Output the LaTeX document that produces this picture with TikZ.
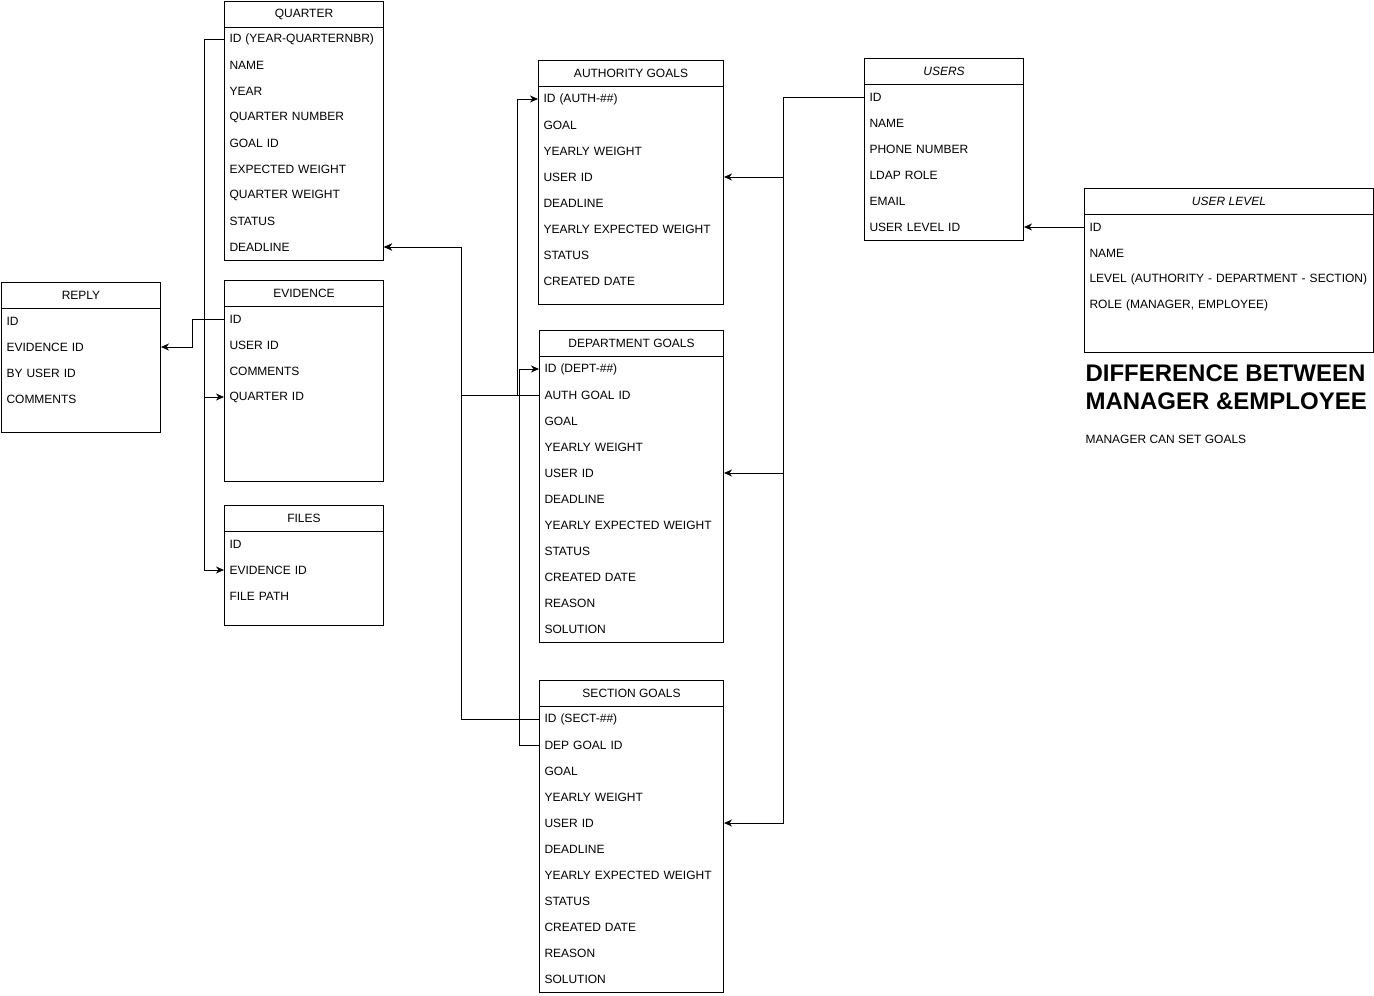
\documentclass[tikz,border=0pt]{standalone}
\usepackage{fontspec}
\setmainfont{Liberation Sans}
\usetikzlibrary{arrows.meta}

\begin{document}
\begin{tikzpicture}[x=1pt, y=-1pt, line width=1pt, >={Stealth[length=8pt,width=7pt,inset=2.5pt]},
	font=\fontsize{12}{14}\selectfont,
	hdr/.style={draw, anchor=north west, minimum width=#1, minimum height=26pt, inner sep=0pt},
	body/.style={draw, anchor=north west, minimum width=#1, inner sep=0pt},
	row/.style={anchor=west, text width=#1, align=left, inner xsep=5pt, inner ysep=0pt, minimum height=26pt}]
	\useasboundingbox (0,0) rectangle (1374,996);
	
	% Tables {quarter, reply, evidence, files}
	\node [hdr=159pt] 							(qh) at (224,1)   {QUARTER};
	\node [body=159pt, minimum height=233pt] 	(qb) at (224,27)  {};
	\foreach \t [count=\i] in {ID (YEAR-QUARTERNBR), NAME, YEAR, QUARTER NUMBER, GOAL ID, EXPECTED WEIGHT, QUARTER WEIGHT, STATUS, DEADLINE}
		\node [row=149pt] (q-\i) at (224,13+26*\i) {\t};
	
	\node [hdr=159pt] 							(rh) at (1,282)   {REPLY};
	\node [body=159pt, minimum height=124pt] 	(rb) at (1,308)   {};
	\foreach \t [count=\i] in {ID, EVIDENCE ID, BY USER ID, COMMENTS}
		\node [row=149pt] (r-\i) at (1,295+26*\i) {\t};
	
	\node [hdr=159pt] 							(eh) at (224,280) {EVIDENCE};
	\node [body=159pt, minimum height=175pt] 	(eb) at (224,306) {};
	\foreach \t [count=\i] in {ID, USER ID, COMMENTS, QUARTER ID}
		\node [row=149pt] (e-\i) at (224,293+26*\i) {\t};
	
	\node [hdr=159pt] 							(fh) at (224,505) {FILES};
	\node [body=159pt, minimum height=94pt] 	(fb) at (224,531) {};
	\foreach \t [count=\i] in {ID, EVIDENCE ID, FILE PATH}
		\node [row=149pt] (f-\i) at (224,518+26*\i) {\t};
	
	% Tables {auth, dept, sect}
	\node [hdr=185pt] 							(ah) at (538,60)  {AUTHORITY GOALS};
	\node [body=185pt, minimum height=218pt] 	(ab) at (538,86)  {};
	\foreach \t [count=\i] in {ID (AUTH-\#\#), GOAL, YEARLY WEIGHT, USER ID, DEADLINE, YEARLY EXPECTED WEIGHT, STATUS, CREATED DATE}
		\node [row=175pt] (a-\i) at (538,73+26*\i) {\t};
	
	\node [hdr=184pt] 							(dh) at (539,330) {DEPARTMENT GOALS};
	\node [body=184pt, minimum height=286pt] 	(db) at (539,356) {};
	\foreach \t [count=\i] in {ID (DEPT-\#\#), AUTH GOAL ID, GOAL, YEARLY WEIGHT, USER ID, DEADLINE, YEARLY EXPECTED WEIGHT, STATUS, CREATED DATE, REASON, SOLUTION}
		\node [row=174pt] (d-\i) at (539,343+26*\i) {\t};
	
	\node [hdr=184pt] 							(sh) at (539,680) {SECTION GOALS};
	\node [body=184pt, minimum height=286pt] 	(sb) at (539,706) {};
	\foreach \t [count=\i] in {ID (SECT-\#\#), DEP GOAL ID, GOAL, YEARLY WEIGHT, USER ID, DEADLINE, YEARLY EXPECTED WEIGHT, STATUS, CREATED DATE, REASON, SOLUTION}
		\node [row=174pt] (s-\i) at (539,693+26*\i) {\t};
	
	% Tables {users, ulevel}
	\node [hdr=159pt, font=\fontsize{12}{14}\selectfont\itshape] 	(uh) at (864,58)  {USERS};
	\node [body=159pt, minimum height=156pt] 	(ub) at (864,84)  {};
	\foreach \t [count=\i] in {ID, NAME, PHONE NUMBER, LDAP ROLE, EMAIL, USER LEVEL ID}
		\node [row=149pt] (u-\i) at (864,71+26*\i) {\t};
	
	\node [hdr=289pt, font=\fontsize{12}{14}\selectfont\itshape] 	(lh) at (1084,188) {USER LEVEL};
	\node [body=289pt, minimum height=138pt] 	(lb) at (1084,214) {};
	\foreach \t [count=\i] in {ID, NAME, LEVEL (AUTHORITY - DEPARTMENT - SECTION), {ROLE (MANAGER, EMPLOYEE)}}
		\node [row=279pt] (l-\i) at (1084,201+26*\i) {\t};
	
	% Notes
	\node [anchor=west, align=left, inner sep=0pt, font=\bfseries\fontsize{24}{28}\selectfont] (diff) at (1085,387) {DIFFERENCE BETWEEN\\MANAGER \&EMPLOYEE};
	\node [anchor=west, inner sep=0pt] (can) at (1085,439) {MANAGER CAN SET GOALS};
	
	% Paths
	\draw [->] (q-1.west) -- ++(-20,0) |- (e-4.west);
	\draw [->] (q-1.west) -- ++(-20,0) |- (f-2.west);
	\draw [->] (e-1.west) -- ++(-32,0) |- (r-2.east);
	\draw [->] (d-2.west) -- ++(-78,0) |- (q-9.east);
	\draw [->] (s-1.west) -- ++(-78,0) |- (q-9.east);
	\draw [->] (d-2.west) -- ++(-22,0) |- (a-1.west);
	\draw [->] (s-2.west) -- ++(-20,0) |- (d-1.west);
	\draw [->] (u-1.west) -- ++(-81,0) |- (a-4.east);
	\draw [->] (u-1.west) -- ++(-81,0) |- (d-5.east);
	\draw [->] (u-1.west) -- ++(-81,0) |- (s-5.east);
	\draw [->] (l-1.west) -- (u-6.east);
	
\end{tikzpicture}
\end{document}
